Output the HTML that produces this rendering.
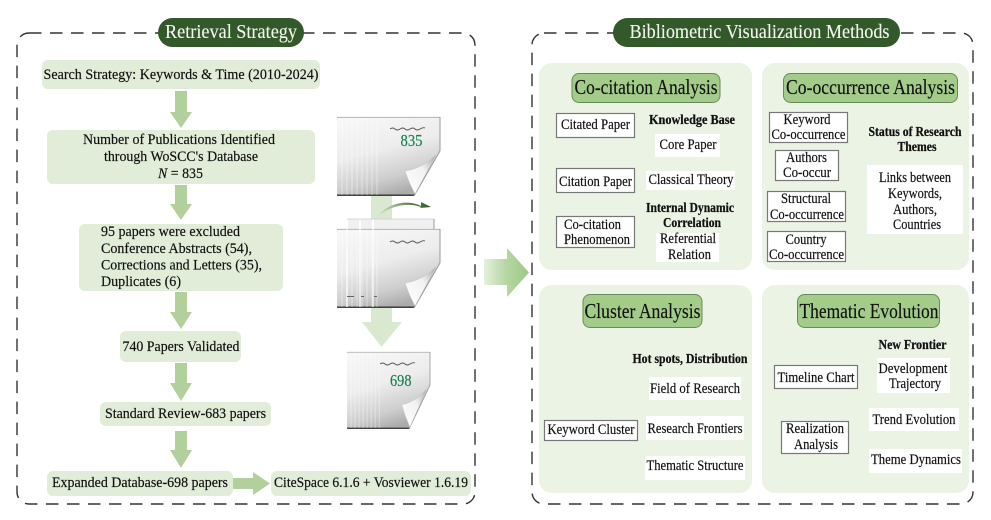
<!DOCTYPE html>
<html>
<head>
<meta charset="utf-8">
<style>
html,body{margin:0;padding:0;background:#fff;width:991px;height:520px;overflow:hidden}
svg{display:block;filter:blur(.3px)}
text{font-family:"Liberation Serif",serif;fill:#111;font-size:14.5px;stroke:#111;stroke-width:.18px}
.m{text-anchor:middle}
.b{font-weight:bold;font-size:13.5px;stroke-width:.25px}
.h{font-size:21.5px;text-anchor:middle;stroke-width:.15px}
.p{font-size:20px;fill:#f2f7ee;stroke:#f2f7ee;stroke-width:.12px;text-anchor:middle}
.g{fill:#e1edd8}
.w{fill:#fff}
.o{fill:#fff;stroke:#777;stroke-width:1.2}
.hd{fill:#a3cb8a;stroke:#6b8a5b;stroke-width:1}
.pn{fill:#ebf3e5}
.ar{fill:#b1d09b}
.n{fill:#17804f;stroke:#17804f;font-size:17px}
</style>
</head>
<body>
<svg width="991" height="520" viewBox="0 0 991 520" xmlns="http://www.w3.org/2000/svg">
<defs>
<linearGradient id="pg" x1="0.15" y1="0" x2="0.5" y2="1">
<stop offset="0" stop-color="#f7f7f7"/><stop offset=".45" stop-color="#ededed"/><stop offset=".8" stop-color="#cdcdcd"/><stop offset="1" stop-color="#ababab"/>
</linearGradient>
<linearGradient id="cu" x1="0" y1="1" x2="1" y2="0">
<stop offset="0" stop-color="#ffffff"/><stop offset=".6" stop-color="#f2f2f2"/><stop offset="1" stop-color="#a8a8a8"/>
</linearGradient>
<linearGradient id="big" x1="0" y1="0" x2="1" y2="0">
<stop offset="0" stop-color="#e4f0dc"/><stop offset=".5" stop-color="#b6d6a2"/><stop offset="1" stop-color="#9cc986"/>
</linearGradient>
<linearGradient id="cv" x1="0" y1="0" x2="1" y2="0">
<stop offset="0" stop-color="#d5e5c9"/><stop offset=".6" stop-color="#5e8450"/><stop offset="1" stop-color="#2f5a28"/>
</linearGradient>
<g id="paper">
<path d="M0 0H103V34L77 79H0Z" fill="url(#pg)"/>
<path d="M0 78.200H77.500" stroke="#333" stroke-width="1.400"/>
<path d="M0 .3H103" stroke="#aaa" stroke-width=".8"/>
<path d="M103 0V34L77 79" fill="none" stroke="#999" stroke-width="1"/>
<path d="M5 1V78M10 1V78M15 1V78M20 1V78M25 1V78M30 1V78M35 1V78M40 1V78" stroke="#fff" stroke-width="1" opacity=".45"/>
<path d="M68 54Q84 52 99 38L78 77Q72 66 68 54Z" fill="url(#cu)" stroke="#bbb" stroke-width=".4"/>
</g>
</defs>

<!-- dashed outer frames -->
<rect x="17" y="33" width="458" height="471" rx="12" fill="none" stroke="#333" stroke-width="1.400" stroke-dasharray="12.500 8.500"/>
<rect x="532" y="33" width="441" height="471" rx="12" fill="none" stroke="#333" stroke-width="1.400" stroke-dasharray="12.500 8.500"/>

<!-- pills -->
<rect x="158" y="18" width="146" height="29" rx="14.500" fill="#33582a"/>
<text class="p" x="231" y="38" textLength="132" lengthAdjust="spacingAndGlyphs">Retrieval Strategy</text>
<rect x="613" y="18" width="287" height="29" rx="14.500" fill="#33582a"/>
<text class="p" x="759.500" y="38" textLength="260" lengthAdjust="spacingAndGlyphs">Bibliometric Visualization Methods</text>

<!-- left flow boxes -->
<rect class="g" x="42" y="60" width="278" height="29" rx="6"/>
<text class="m" x="181" y="79" textLength="275" lengthAdjust="spacingAndGlyphs">Search Strategy: Keywords &amp; Time (2010-2024)</text>
<path class="ar" d="M175 91H187V112H192L181 128L170 112H175Z"/>

<rect class="g" x="47" y="130" width="268" height="54" rx="6"/>
<text class="m" x="179" y="144" textLength="192" lengthAdjust="spacingAndGlyphs">Number of Publications Identified</text>
<text class="m" x="181" y="161" textLength="154" lengthAdjust="spacingAndGlyphs">through WoSCC's Database</text>
<text class="m" x="180.500" y="178" textLength="45" lengthAdjust="spacingAndGlyphs"><tspan font-style="italic">N</tspan> = 835</text>
<path class="ar" d="M175 185H187V204H192L181 220L170 204H175Z"/>

<rect class="g" x="79" y="224" width="204" height="67" rx="6"/>
<text x="101" y="236" textLength="139" lengthAdjust="spacingAndGlyphs">95 papers were excluded</text>
<text x="101" y="253" textLength="151" lengthAdjust="spacingAndGlyphs">Conference Abstracts (54),</text>
<text x="101" y="269.500" textLength="161" lengthAdjust="spacingAndGlyphs">Corrections and Letters (35),</text>
<text x="101" y="286" textLength="80" lengthAdjust="spacingAndGlyphs">Duplicates (6)</text>
<path class="ar" d="M175 292H187V312H192L181 329L170 312H175Z"/>

<rect class="g" x="120" y="331" width="121" height="31" rx="6"/>
<text class="m" x="181" y="351" textLength="117" lengthAdjust="spacingAndGlyphs">740 Papers Validated</text>
<path class="ar" d="M175 363H187V383H192L181 401L170 383H175Z"/>

<rect class="g" x="100" y="402" width="171" height="24" rx="6"/>
<text class="m" x="185.500" y="418" textLength="161" lengthAdjust="spacingAndGlyphs">Standard Review-683 papers</text>
<path class="ar" d="M175 431H187V450H192L181 468L170 450H175Z"/>

<rect class="g" x="47" y="471" width="186" height="25" rx="6"/>
<text class="m" x="140" y="487" textLength="176" lengthAdjust="spacingAndGlyphs">Expanded Database-698 papers</text>
<path class="ar" d="M233 478H253V472L270 483.500L253 495V489H233Z"/>
<rect class="g" x="271" y="471" width="200" height="25" rx="6"/>
<text class="m" x="371" y="487" textLength="194" lengthAdjust="spacingAndGlyphs">CiteSpace 6.1.6 + Vosviewer 1.6.19</text>

<!-- central light arrow -->
<path d="M371 190H392V322H402L381.500 347L362 322H371Z" fill="#d9e9cf"/>

<!-- papers -->
<use href="#paper" x="337" y="117"/>
<path d="M390 129q3 -2 5 0t5 0t5 0t5 0t5 0t5 0t5 -1" fill="none" stroke="#555" stroke-width=".9"/>
<text class="n" x="400.500" y="146" textLength="22" lengthAdjust="spacingAndGlyphs">835</text>

<!-- stack -->
<rect x="347" y="219" width="87" height="20" fill="#f0f0f0"/>
<path d="M360 219V229M373 219V229M347 219V229" stroke="#fff" stroke-width="2"/>
<path d="M434 219V230" stroke="#999"/>
<path d="M347 219H434" stroke="#ccc" stroke-width=".8"/>
<use href="#paper" x="337" y="229"/>
<path d="M360 229V307M373 229V307M347 229V307" stroke="#fff" stroke-width="2" opacity=".55"/>
<path d="M347 296.500H354M361 296.500H364M374 296.500H377" stroke="#666" stroke-width="1"/>
<path d="M390 242q3 -2 5 0t5 0t5 0t5 0t5 0t5 0t5 -1" fill="none" stroke="#555" stroke-width=".9"/>
<path d="M378 217C386 203 408 199 421 206L421 202L431 207L420 208L421 207C408 202 388 206 378 217Z" fill="url(#cv)"/>

<g transform="translate(347 352) scale(.806 .975)"><use href="#paper"/></g>
<path d="M380 364q3 -2 5 0t5 0t5 0t5 0t5 0t5 0t5 -1" fill="none" stroke="#555" stroke-width=".9"/>
<text class="n" x="390" y="386" textLength="21.500" lengthAdjust="spacingAndGlyphs">698</text>

<!-- big arrow -->
<path d="M484 259H507V248L529 272.500L507 297V285H484Z" fill="url(#big)"/>

<!-- panels -->
<rect class="pn" x="539" y="63" width="213" height="207" rx="13"/>
<rect class="pn" x="762" y="63" width="207" height="207" rx="13"/>
<rect class="pn" x="539" y="285" width="213" height="208" rx="13"/>
<rect class="pn" x="762" y="285" width="207" height="208" rx="13"/>

<!-- TL -->
<rect class="hd" x="572" y="73.500" width="148" height="29" rx="7"/>
<text class="h" x="646" y="94" textLength="143" lengthAdjust="spacingAndGlyphs">Co-citation Analysis</text>
<rect class="o" x="556.500" y="113.500" width="78" height="24"/>
<text class="m" x="595.500" y="129" textLength="69" lengthAdjust="spacingAndGlyphs">Citated Paper</text>
<rect class="o" x="556.500" y="168.500" width="78" height="24"/>
<text class="m" x="595.500" y="186" textLength="73" lengthAdjust="spacingAndGlyphs">Citation Paper</text>
<rect class="o" x="556.500" y="216.500" width="78" height="31"/>
<text x="564" y="229" textLength="57" lengthAdjust="spacingAndGlyphs">Co-citation</text>
<text x="564" y="244" textLength="66" lengthAdjust="spacingAndGlyphs">Phenomenon</text>
<text class="b m" x="692" y="124" textLength="86" lengthAdjust="spacingAndGlyphs">Knowledge Base</text>
<rect class="w" x="655" y="134" width="65" height="23"/>
<text class="m" x="688" y="149" textLength="57" lengthAdjust="spacingAndGlyphs">Core Paper</text>
<rect class="w" x="646" y="171" width="89" height="19"/>
<text class="m" x="691" y="184" textLength="85" lengthAdjust="spacingAndGlyphs">Classical Theory</text>
<text class="b m" x="690" y="212" textLength="88" lengthAdjust="spacingAndGlyphs">Internal Dynamic</text>
<text class="b m" x="692" y="227" textLength="58" lengthAdjust="spacingAndGlyphs">Correlation</text>
<rect class="w" x="656" y="233" width="63" height="29"/>
<text x="660" y="243" textLength="56" lengthAdjust="spacingAndGlyphs">Referential</text>
<text x="668" y="259" textLength="43" lengthAdjust="spacingAndGlyphs">Relation</text>

<!-- TR -->
<rect class="hd" x="783.500" y="73.500" width="174" height="29" rx="7"/>
<text class="h" x="870.500" y="94" textLength="169" lengthAdjust="spacingAndGlyphs">Co-occurrence Analysis</text>
<rect class="o" x="769.500" y="112.500" width="78" height="30"/>
<text class="m" x="807" y="124" textLength="47" lengthAdjust="spacingAndGlyphs">Keyword</text>
<text class="m" x="808.500" y="139" textLength="74" lengthAdjust="spacingAndGlyphs">Co-occurrence</text>
<rect class="o" x="775.500" y="150.500" width="63" height="30"/>
<text class="m" x="806.500" y="162" textLength="41" lengthAdjust="spacingAndGlyphs">Authors</text>
<text class="m" x="807" y="177" textLength="48" lengthAdjust="spacingAndGlyphs">Co-occur</text>
<rect class="o" x="767.500" y="191.500" width="78" height="30"/>
<text class="m" x="806" y="203" textLength="50" lengthAdjust="spacingAndGlyphs">Structural</text>
<text class="m" x="807" y="219" textLength="74" lengthAdjust="spacingAndGlyphs">Co-occurrence</text>
<rect class="o" x="767.500" y="231.500" width="78" height="30"/>
<text class="m" x="806" y="244" textLength="41" lengthAdjust="spacingAndGlyphs">Country</text>
<text class="m" x="806.500" y="259" textLength="75" lengthAdjust="spacingAndGlyphs">Co-occurrence</text>
<text class="b m" x="915" y="136" textLength="93" lengthAdjust="spacingAndGlyphs">Status of Research</text>
<text class="b m" x="917" y="151" textLength="39" lengthAdjust="spacingAndGlyphs">Themes</text>
<rect class="w" x="867" y="165" width="96" height="69"/>
<text class="m" x="915" y="182" textLength="72" lengthAdjust="spacingAndGlyphs">Links between</text>
<text class="m" x="915" y="198" textLength="54" lengthAdjust="spacingAndGlyphs">Keywords,</text>
<text class="m" x="915" y="214" textLength="44" lengthAdjust="spacingAndGlyphs">Authors,</text>
<text class="m" x="917" y="229" textLength="48" lengthAdjust="spacingAndGlyphs">Countries</text>

<!-- BL -->
<rect class="hd" x="583" y="294.500" width="119" height="33" rx="7"/>
<text class="h" x="642.500" y="318" textLength="116" lengthAdjust="spacingAndGlyphs">Cluster Analysis</text>
<text class="b m" x="690" y="363" textLength="115" lengthAdjust="spacingAndGlyphs">Hot spots, Distribution</text>
<rect class="w" x="649" y="377" width="92" height="23"/>
<text class="m" x="695" y="393" textLength="90" lengthAdjust="spacingAndGlyphs">Field of Research</text>
<rect class="w" x="646" y="416" width="98" height="24"/>
<text class="m" x="695" y="433" textLength="95" lengthAdjust="spacingAndGlyphs">Research Frontiers</text>
<rect class="w" x="645" y="456" width="100" height="24"/>
<text class="m" x="695" y="470" textLength="97" lengthAdjust="spacingAndGlyphs">Thematic Structure</text>
<rect class="o" x="544.500" y="420.500" width="93" height="20"/>
<text class="m" x="591" y="434" textLength="87" lengthAdjust="spacingAndGlyphs">Keyword Cluster</text>

<!-- BR -->
<rect class="hd" x="797.500" y="294.500" width="142" height="33" rx="7"/>
<text class="h" x="869" y="318" textLength="139" lengthAdjust="spacingAndGlyphs">Thematic Evolution</text>
<text class="b m" x="912.500" y="349" textLength="68" lengthAdjust="spacingAndGlyphs">New Frontier</text>
<rect class="w" x="877" y="358" width="73" height="35"/>
<text class="m" x="913" y="373" textLength="69" lengthAdjust="spacingAndGlyphs">Development</text>
<text class="m" x="915" y="388" textLength="52" lengthAdjust="spacingAndGlyphs">Trajectory</text>
<rect class="w" x="869" y="408" width="90" height="23"/>
<text class="m" x="914" y="424" textLength="83" lengthAdjust="spacingAndGlyphs">Trend Evolution</text>
<rect class="w" x="869" y="449" width="93" height="24"/>
<text class="m" x="916" y="464" textLength="90" lengthAdjust="spacingAndGlyphs">Theme Dynamics</text>
<rect class="o" x="774.500" y="365.500" width="83" height="23"/>
<text class="m" x="816" y="382" textLength="77" lengthAdjust="spacingAndGlyphs">Timeline Chart</text>
<rect class="o" x="781.500" y="421.500" width="67" height="32"/>
<text class="m" x="815" y="433" textLength="58" lengthAdjust="spacingAndGlyphs">Realization</text>
<text class="m" x="816" y="449" textLength="44" lengthAdjust="spacingAndGlyphs">Analysis</text>
</svg>
</body>
</html>
